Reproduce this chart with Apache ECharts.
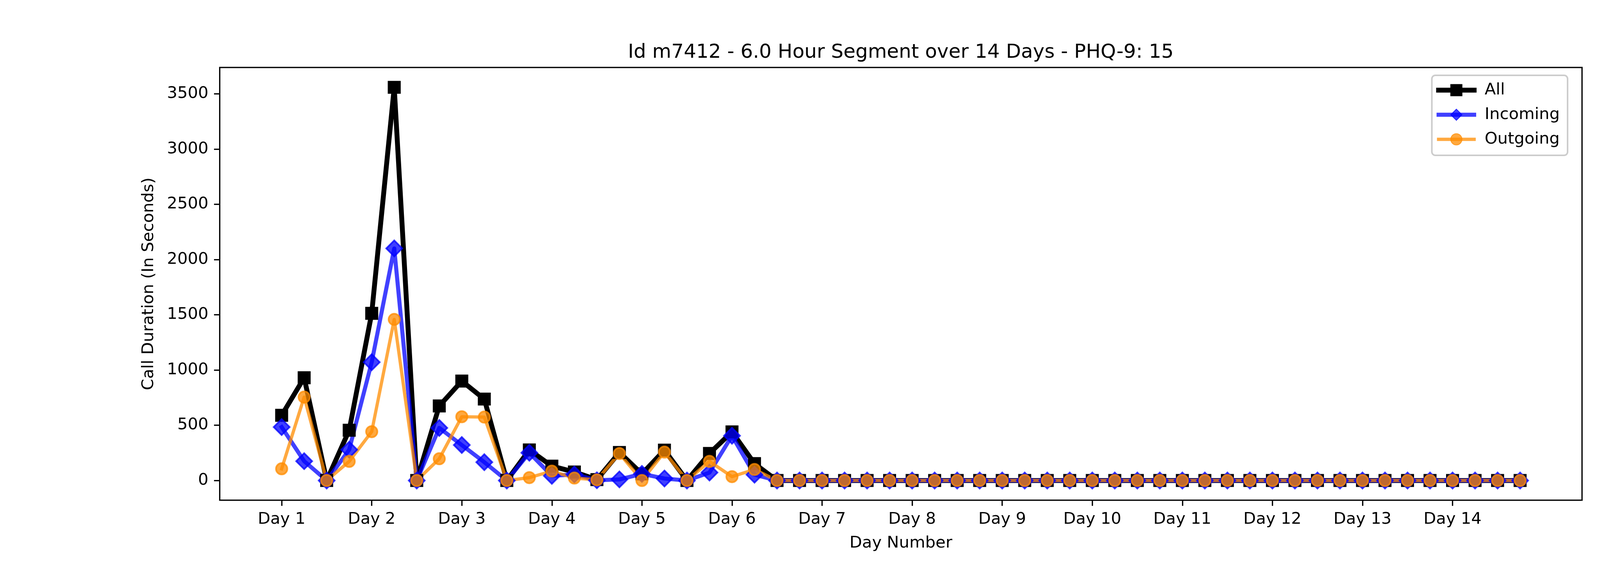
<!DOCTYPE html>
<html>
<head>
<meta charset="utf-8">
<script src="https://cdn.jsdelivr.net/npm/echarts@6/dist/echarts.min.js"></script>
<style>
  html, body { margin: 0; padding: 0; background: #fff; }
  #chart { width: 4500px; height: 1440px; }
</style>
</head>
<body>
<div id="chart"></div>
<script>
// 4 segments of 6 hours per day, 14 days -> 56 points
var allCalls = [590, 930, 0, 455, 1513, 3558, 0, 675, 900, 737, 0, 277, 130, 77, 8, 254,
  60, 275, 0, 245, 440, 153, 0, 0, 0, 0, 0, 0, 0, 0, 0, 0,
  0, 0, 0, 0, 0, 0, 0, 0, 0, 0, 0, 0, 0, 0, 0, 0,
  0, 0, 0, 0, 0, 0, 0, 0];
var incoming = [484, 175, 0, 279, 1071, 2100, 0, 476, 321, 166, 0, 251, 42, 55, 2, 10,
  60, 18, 0, 72, 405, 53, 0, 0, 0, 0, 0, 0, 0, 0, 0, 0,
  0, 0, 0, 0, 0, 0, 0, 0, 0, 0, 0, 0, 0, 0, 0, 0,
  0, 0, 0, 0, 0, 0, 0, 0];
var outgoing = [106, 755, 0, 173, 442, 1458, 0, 197, 577, 574, 0, 26, 85, 22, 6, 244,
  0, 257, 0, 173, 35, 100, 0, 0, 0, 0, 0, 0, 0, 0, 0, 0,
  0, 0, 0, 0, 0, 0, 0, 0, 0, 0, 0, 0, 0, 0, 0, 0,
  0, 0, 0, 0, 0, 0, 0, 0];
var dayTicks = [0, 4, 8, 12, 16, 20, 24, 28, 32, 36, 40, 44, 48, 52];
var dayLabels = ['Day 1', 'Day 2', 'Day 3', 'Day 4', 'Day 5', 'Day 6', 'Day 7',
  'Day 8', 'Day 9', 'Day 10', 'Day 11', 'Day 12', 'Day 13', 'Day 14'];
var yTicks = [0, 500, 1000, 1500, 2000, 2500, 3000, 3500];

function pairs(arr) {
  return arr.map(function (v, i) { return [i, v]; });
}

var FONT = 'DejaVu Sans';
var chart = echarts.init(document.getElementById('chart'), null, { renderer: 'canvas' });

var option = {
  animation: false,
  backgroundColor: '#ffffff',
  title: {
    text: 'Id m7412 - 6.0 Hour Segment over 14 Days - PHQ-9: 15',
    left: 2306,
    top: 110,
    padding: 0,
    textAlign: 'center',
    textStyle: { fontFamily: FONT, fontSize: 50, fontWeight: 'normal', color: '#000' }
  },
  legend: {
    right: 487,
    top: 193,
    orient: 'vertical',
    padding: [17, 20, 20, 11],
    itemWidth: 91,
    itemHeight: 36,
    itemGap: 21,
    backgroundColor: 'rgba(255,255,255,0.8)',
    borderColor: '#cccccc',
    borderWidth: 4,
    borderRadius: 9,
    lineStyle: { width: 'inherit' },
    textStyle: { fontFamily: FONT, fontSize: 41.7, color: '#000', padding: [0, 0, 0, 22] },
    data: ['All', 'Incoming', 'Outgoing']
  },
  grid: {
    left: 562.5,
    right: 450,
    top: 172.8,
    bottom: 158.4,
    show: true,
    borderColor: '#000',
    borderWidth: 3.3,
    backgroundColor: 'transparent'
  },
  xAxis: {
    type: 'value',
    min: -2.75,
    max: 57.75,
    name: 'Day Number',
    nameLocation: 'middle',
    nameGap: 90,
    nameTextStyle: { fontFamily: FONT, fontSize: 41.7, color: '#000' },
    axisLine: { show: false, onZero: false },
    splitLine: { show: false },
    axisTick: {
      show: true, inside: false, length: 14.6,
      customValues: dayTicks,
      lineStyle: { color: '#000', width: 3.3 }
    },
    axisLabel: {
      margin: 29,
      customValues: dayTicks,
      fontFamily: FONT, fontSize: 41.7, color: '#000',
      formatter: function (v) { return dayLabels[dayTicks.indexOf(Math.round(v))]; }
    }
  },
  yAxis: {
    type: 'value',
    min: -178,
    max: 3738,
    name: 'Call Duration (In Seconds)',
    nameLocation: 'middle',
    nameRotate: 90,
    nameGap: 160,
    nameTextStyle: { fontFamily: FONT, fontSize: 41.7, color: '#000' },
    axisLine: { show: false, onZero: false },
    splitLine: { show: false },
    axisTick: {
      show: true, inside: false, length: 14.6,
      customValues: yTicks,
      lineStyle: { color: '#000', width: 3.3 }
    },
    axisLabel: {
      margin: 29,
      customValues: yTicks,
      fontFamily: FONT, fontSize: 41.7, color: '#000',
      formatter: function (v) { return String(v); }
    }
  },
  series: [
    {
      name: 'All',
      type: 'line',
      data: pairs(allCalls),
      symbol: 'rect',
      symbolSize: 29,
      lineStyle: { color: '#000000', width: 12.5, join: 'round', cap: 'square' },
      itemStyle: { color: '#000000', borderColor: '#000000', borderWidth: 4.2 },
      emphasis: { disabled: true }
    },
    {
      name: 'Incoming',
      type: 'line',
      data: pairs(incoming),
      symbol: 'diamond',
      symbolSize: 41,
      lineStyle: { color: '#0000ff', width: 10.4, opacity: 0.75, join: 'round', cap: 'square' },
      itemStyle: { color: '#0000ff', borderColor: '#0000ff', borderWidth: 4.2, opacity: 0.75 },
      emphasis: { disabled: true }
    },
    {
      name: 'Outgoing',
      type: 'line',
      data: pairs(outgoing),
      symbol: 'circle',
      symbolSize: 29,
      lineStyle: { color: '#ff8c00', width: 8.3, opacity: 0.75, join: 'round', cap: 'square' },
      itemStyle: { color: '#ff8c00', borderColor: '#ff8c00', borderWidth: 4.2, opacity: 0.75 },
      emphasis: { disabled: true }
    }
  ]
};

chart.setOption(option);
</script>
</body>
</html>
